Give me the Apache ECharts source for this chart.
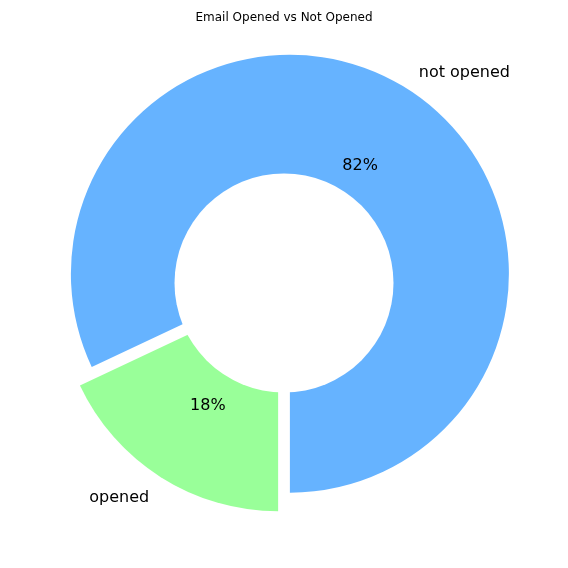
<!DOCTYPE html>
<html>
<head>
<meta charset="utf-8">
<script src="https://cdn.jsdelivr.net/npm/echarts@6/dist/echarts.min.js"></script>
<style>html,body{margin:0;padding:0;background:#fff}#c{width:568px;height:568px}</style>
</head>
<body>
<div id="c"></div>
<script>
const categories = ['opened', 'not opened'];
const values = [18, 82];
const colors = ['#99ff99', '#66b3ff'];
const titleText = 'Email Opened vs Not Opened';

const FONT = 'DejaVu Sans';
const CENTER = [284, 283];
const LABEL_CENTER = [284, 285.5];
const R = 219;

const chart = echarts.init(document.getElementById('c'), null, {renderer: 'canvas'});

const wedgeData = categories.map((n, i) => ({
  name: n, value: values[i], selected: true,
  itemStyle: {color: colors[i]}
}));
const labelData = categories.map((n, i) => ({
  name: n, value: values[i], selected: true,
  itemStyle: {color: 'rgba(0,0,0,0)'}
}));

const common = {
  type: 'pie', startAngle: 270, clockwise: true,
  selectedMode: 'multiple', selectedOffset: 11,
  avoidLabelOverlap: false, emphasis: {disabled: true}
};

chart.setOption({
  animation: false,
  backgroundColor: '#fff',
  title: {
    text: titleText, left: 'center', top: 7,
    textStyle: {fontFamily: FONT, fontSize: 12, fontWeight: 'normal', color: '#000'}
  },
  series: [
    Object.assign({}, common, {
      center: CENTER, radius: [0, R],
      data: wedgeData,
      label: {show: false}, labelLine: {show: false}
    }),
    {
      type: 'pie', center: CENTER, radius: [0, R * 0.5],
      silent: true, emphasis: {disabled: true},
      label: {show: false}, labelLine: {show: false},
      data: [{value: 1, itemStyle: {color: '#ffffff'}}]
    },
    Object.assign({}, common, {
      center: LABEL_CENTER, radius: [0, R], silent: true,
      data: labelData,
      label: {
        show: true, position: 'outside', formatter: '{b}',
        distanceToLabelLine: 0,
        fontFamily: FONT, fontSize: 16, color: '#000'
      },
      labelLine: {show: false, length: 21.5, length2: 0}
    }),
    Object.assign({}, common, {
      center: LABEL_CENTER, radius: [0, R * 1.17], silent: true,
      data: labelData,
      label: {
        show: true, position: 'inside',
        formatter: p => Math.round(p.percent) + '%',
        fontFamily: FONT, fontSize: 16, color: '#000'
      },
      labelLine: {show: false}
    })
  ]
});
</script>
</body>
</html>
